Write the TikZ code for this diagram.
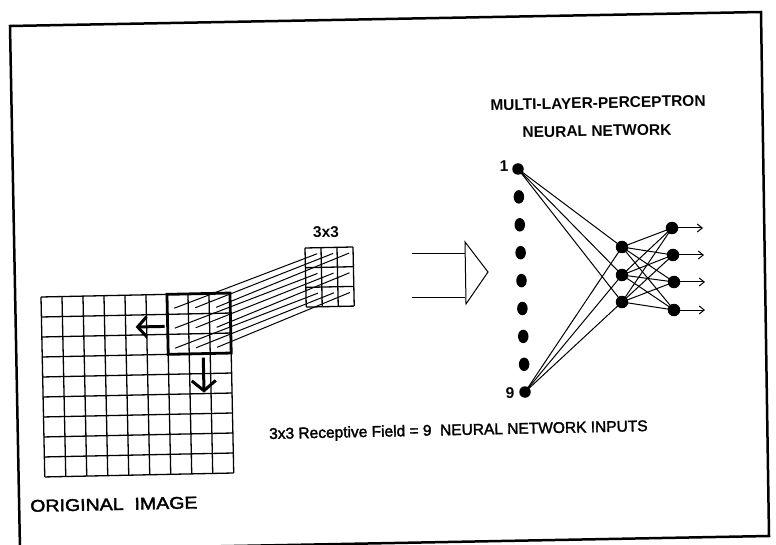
\documentclass[tikz,border=0pt]{standalone}
\usepackage{fontspec}
\setmainfont{Liberation Sans}
\newfontfamily\heavyfont[FakeBold=2]{Liberation Sans}
\usetikzlibrary{arrows.meta,shapes.geometric}
\begin{document}
\begin{tikzpicture}[x=1pt,y=-1pt,
  txt/.style={font=\heavyfont\fontsize{15.5}{18}\selectfont, inner sep=0pt, rotate=1.2},
  btxt/.style={txt, font=\fontsize{15.5}{18}\selectfont\bfseries},
  gridline/.style={line width=1.3pt},
  wire/.style={line width=1pt},
  neuron/.style={circle, fill=black, inner sep=0pt, minimum size=12.5pt},
  inputdot/.style={ellipse, fill=black, inner sep=0pt, minimum width=10.5pt, minimum height=13.5pt},
  movearrow/.style={line width=3pt},
  outarrow/.style={wire, -{Straight Barb[length=5pt,width=8pt]}}
]
\useasboundingbox (0,0) rectangle (776,545);
\clip (0,0) rectangle (776,545);

% outer frame
\draw[line width=2.5pt] (10,26) -- (761,12) -- (769,536) -- (20,550) -- cycle;

% original image: 9x9 pixel grid with the 3x3 window
\begin{scope}[shift={(41,297)}, rotate=1.2]
  \foreach \i in {0,...,9} \draw[gridline] (21*\i,0) -- (21*\i,180);
  \foreach \j in {0,...,9} \draw[gridline] (0,20*\j) -- (189,20*\j);
  \draw[line width=2.8pt] (126,0) rectangle (189,60);
  \foreach \r in {0,1,2} \foreach \c in {0,1,2}
    \coordinate (b\r\c) at (126+7+21*\c, 14+20*\r);
  % window movement arrows
  \coordinate (la1) at (123,32);
  \coordinate (la2) at (94,32);
  \coordinate (da1) at (161,64);
  \coordinate (da2) at (161,99);
  \draw[movearrow, -{Straight Barb[length=9pt,width=20pt]}] (la1) -- (la2);
  \draw[movearrow, -{Straight Barb[length=10pt,width=24pt]}] (da1) -- (da2);
\end{scope}

% the 3x3 receptive field
\begin{scope}[shift={(305,248)}, rotate=1.2]
  \foreach \i in {0,...,3} \draw[gridline] (16*\i,0) -- (16*\i,59);
  \foreach \j in {0,...,3} \draw[gridline] (0,19.7*\j) -- (48,19.7*\j);
  \foreach \r in {0,1,2} \foreach \c in {0,1,2}
    \coordinate (s\r\c) at (12+16*\c, 6+19.7*\r);
\end{scope}
\foreach \r in {0,1,2} \foreach \c in {0,1,2}
  \draw[wire] (b\r\c) -- (s\r\c);

\node[btxt] (lbl33) at (326,232) {3x3};

% feed arrow into the network
\coordinate (fa1) at (412,254);
\coordinate (fb1) at (465,254);
\coordinate (fa2) at (412,297);
\coordinate (fb2) at (465,297);
\draw[wire] (fa1) -- (fb1);
\draw[wire] (fa2) -- (fb2);
\coordinate (t1) at (465,242);
\coordinate (t2) at (488,272);
\coordinate (t3) at (466,304);
\draw[wire] (t1) -- (t2) -- (t3) -- cycle;

% network units
\node[neuron, minimum size=11.5pt] (i1) at (518,169) {};
\foreach \k in {2,...,8}
  \node[inputdot] (i\k) at ({518+0.875*(\k-1)}, {169+27.9*(\k-1)}) {};
\node[neuron, minimum size=11.5pt] (i9) at (525,392) {};
\node[neuron] (h1) at (622,247) {};
\node[neuron] (h2) at (622,275) {};
\node[neuron] (h3) at (622,302) {};
\node[neuron] (o1) at (672,228) {};
\node[neuron] (o2) at (673,255) {};
\node[neuron] (o3) at (674,282) {};
\node[neuron] (o4) at (674,310) {};
\coordinate (e1) at (703,228);
\coordinate (e2) at (704,255);
\coordinate (e3) at (705,282);
\coordinate (e4) at (705,310);

\foreach \h in {1,2,3} {
  \draw[wire] (i1.center) -- (h\h.center);
  \draw[wire] (i9.center) -- (h\h.center);
  \foreach \o in {1,...,4} \draw[wire] (h\h.center) -- (o\o.center);
}
\foreach \o in {1,...,4} \draw[outarrow] (o\o) -- (e\o);

\node[btxt] (n1) at (504,166) {1};
\node[btxt] (n9) at (510,393) {9};

% captions
\node[btxt] (title1) at (598,103) {MULTI-LAYER-PERCEPTRON};
\node[btxt] (title2) at (597,131) {NEURAL NETWORK};
\node[txt, anchor=west] (cap) at (269,435) {3x3 Receptive Field = 9\ \ NEURAL NETWORK INPUTS};
\node[txt, anchor=west, font=\heavyfont\fontsize{17}{20}\selectfont, xscale=1.15] (orig) at (30,506) {ORIGINAL\ \ IMAGE};
\end{tikzpicture}
\end{document}
